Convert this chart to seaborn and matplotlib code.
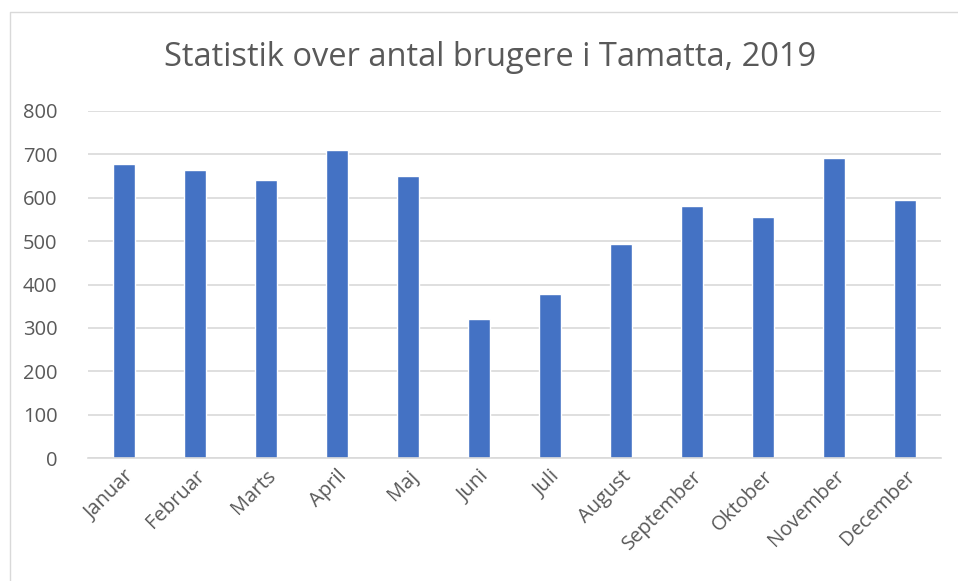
import pandas as pd
import seaborn as sns
import matplotlib.pyplot as plt
from matplotlib.lines import Line2D

# Data
months = ['Januar', 'Februar', 'Marts', 'April', 'Maj', 'Juni', 'Juli',
          'August', 'September', 'Oktober', 'November', 'December']
users = [677, 664, 641, 711, 650, 321, 379, 494, 582, 555, 692, 594]
y_ticks = [0, 100, 200, 300, 400, 500, 600, 700, 800]

df = pd.DataFrame({'month': months, 'users': users})

sns.set_theme(style="white")
plt.rcParams['font.family'] = ['Open Sans', 'DejaVu Sans']

fig = plt.figure(figsize=(9.58, 5.81), dpi=100)
ax = fig.add_axes([88 / 958, 1 - 458 / 581, (941 - 88) / 958, (458 - 111) / 581])

sns.barplot(data=df, x='month', y='users', color='#4472C4', width=0.31,
            saturation=1, ax=ax)

ax.set_ylim(0, 800)
ax.set_yticks(y_ticks)
ax.yaxis.grid(True, color='#d9d9d9', linewidth=1.2)
ax.set_axisbelow(True)
for s in ['top', 'right', 'left']:
    ax.spines[s].set_visible(False)
ax.spines['bottom'].set_color('#d9d9d9')
ax.spines['bottom'].set_linewidth(1.2)
ax.tick_params(axis='both', length=0, colors='#595959', labelsize=14.5)
ax.tick_params(axis='y', pad=22)
ax.tick_params(axis='x', pad=6)
plt.setp(ax.get_xticklabels(), rotation=45, ha='right', rotation_mode='anchor')
ax.set_xlabel('')
ax.set_ylabel('')

fig.text(490 / 958, 1 - 57 / 581, 'Statistik over antal brugere i Tamatta, 2019',
         ha='center', va='center', fontsize=23.5, color='#595959')

# chart area border (only top and left visible in the crop)
fig.lines.append(Line2D([10 / 958, 10 / 958, 1], [0, 1 - 12 / 581, 1 - 12 / 581],
                        transform=fig.transFigure, color='#d9d9d9', linewidth=1))

fig.savefig('out.png', dpi=100)
